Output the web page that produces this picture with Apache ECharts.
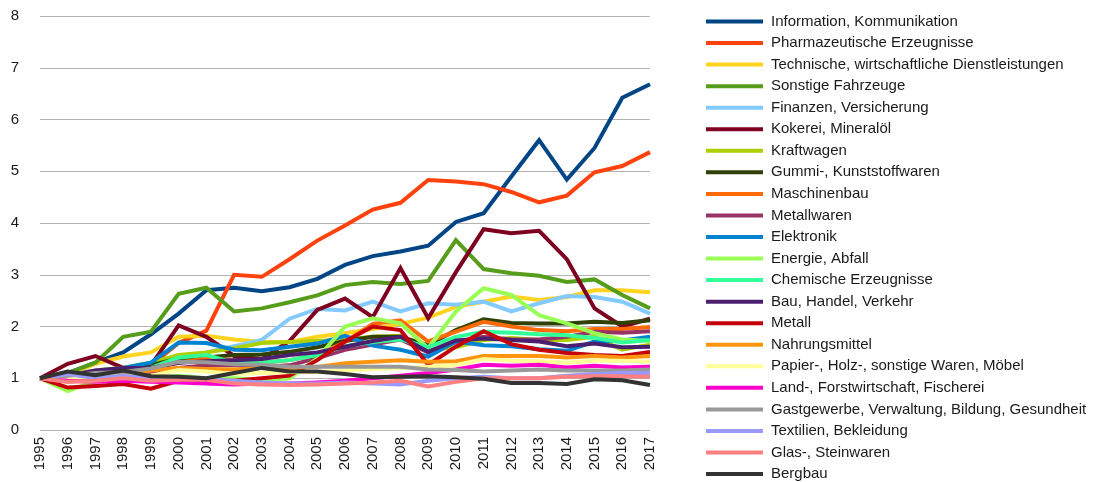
<!DOCTYPE html>
<html>
<head>
<meta charset="utf-8">
<script src="https://cdn.jsdelivr.net/npm/echarts@6/dist/echarts.min.js"></script>
<style>
  html, body { margin: 0; padding: 0; background: #fff; }
  #chart { width: 1099px; height: 482px; }
</style>
</head>
<body>
<div id="chart"></div>
<script>
var years = ['1995','1996','1997','1998','1999','2000','2001','2002','2003','2004','2005','2006','2007','2008','2009','2010','2011','2012','2013','2014','2015','2016','2017'];

var names = [
  'Information, Kommunikation', 'Pharmazeutische Erzeugnisse', 'Technische, wirtschaftliche Dienstleistungen',
  'Sonstige Fahrzeuge', 'Finanzen, Versicherung', 'Kokerei, Mineralöl', 'Kraftwagen', 'Gummi-, Kunststoffwaren',
  'Maschinenbau', 'Metallwaren', 'Elektronik', 'Energie, Abfall', 'Chemische Erzeugnisse', 'Bau, Handel, Verkehr',
  'Metall', 'Nahrungsmittel', 'Papier-, Holz-, sonstige Waren, Möbel', 'Land-, Forstwirtschaft, Fischerei',
  'Gastgewerbe, Verwaltung, Bildung, Gesundheit', 'Textilien, Bekleidung', 'Glas-, Steinwaren', 'Bergbau'
];

var colors = [
  '#004586', '#ff420e', '#ffd320', '#579d1c', '#83caff', '#7e0021', '#aecf00', '#314004',
  '#ff6a06', '#993366', '#0084d1', '#99ff55', '#33ff99', '#4b1f6f',
  '#c5000b', '#ff950e', '#ffff99', '#ff00cc', '#999999', '#9999ff', '#ff8080', '#333333'
];

var info     = [1.0,1.1,1.3,1.5,1.85,2.25,2.7,2.75,2.68,2.76,2.92,3.19,3.36,3.45,3.56,4.02,4.19,4.9,5.6,4.84,5.45,6.42,6.68];
var pharma   = [1.0,0.97,1.05,1.12,1.25,1.68,1.92,3.0,2.96,3.3,3.66,3.95,4.26,4.39,4.83,4.8,4.75,4.6,4.4,4.53,4.98,5.1,5.37];
var technik  = [1.0,1.05,1.28,1.42,1.5,1.8,1.82,1.75,1.7,1.7,1.8,1.87,1.95,2.05,2.17,2.38,2.48,2.58,2.51,2.57,2.7,2.7,2.66];
var sonstige = [1.0,1.1,1.3,1.8,1.9,2.63,2.75,2.29,2.35,2.47,2.6,2.8,2.86,2.82,2.88,3.67,3.11,3.03,2.98,2.86,2.91,2.61,2.35];
var finanzen = [1.0,1.05,1.15,1.2,1.3,1.4,1.5,1.62,1.74,2.15,2.34,2.31,2.48,2.29,2.45,2.42,2.48,2.29,2.45,2.59,2.57,2.48,2.25];
var kokerei  = [1.0,1.28,1.43,1.2,1.25,2.02,1.8,1.43,1.37,1.72,2.32,2.54,2.18,3.13,2.16,3.05,3.88,3.8,3.85,3.3,2.35,2.0,2.15];
var kraft    = [1.0,1.05,1.15,1.2,1.3,1.45,1.5,1.58,1.68,1.7,1.72,1.75,1.8,1.82,1.55,1.6,1.74,1.78,1.74,1.74,1.8,1.55,1.65];
var gummi    = [1.0,1.05,1.1,1.18,1.25,1.38,1.4,1.45,1.46,1.51,1.6,1.72,1.8,1.8,1.64,1.93,2.14,2.07,2.06,2.06,2.09,2.07,2.12];
var masch    = [1.0,1.05,1.08,1.12,1.18,1.3,1.38,1.35,1.3,1.35,1.45,1.7,2.05,2.12,1.71,1.9,2.09,2.0,1.93,1.91,1.95,1.95,1.99];
var metallw  = [1.0,1.02,1.05,1.1,1.12,1.2,1.25,1.25,1.22,1.25,1.39,1.55,1.65,1.75,1.5,1.7,1.8,1.75,1.75,1.8,1.9,1.88,1.91];
var elektr   = [1.0,1.05,1.1,1.2,1.3,1.69,1.68,1.55,1.54,1.61,1.67,1.82,1.63,1.55,1.42,1.71,1.64,1.62,1.56,1.53,1.71,1.73,1.8];
var energie  = [1.0,0.75,0.95,1.0,1.0,1.05,1.0,1.0,0.97,1.0,1.38,2.0,2.16,2.06,1.58,2.29,2.74,2.61,2.22,2.06,1.87,1.75,1.72];
var chemie   = [1.0,1.05,1.1,1.15,1.2,1.4,1.45,1.3,1.3,1.35,1.45,1.62,1.7,1.75,1.6,1.8,1.9,1.88,1.85,1.83,1.78,1.69,1.74];
var bau      = [1.0,1.05,1.15,1.2,1.2,1.3,1.33,1.35,1.37,1.45,1.5,1.61,1.72,1.8,1.51,1.73,1.77,1.74,1.71,1.62,1.67,1.6,1.61];
var metall   = [1.0,0.82,0.85,0.89,0.8,0.95,0.95,0.95,1.0,1.05,1.35,1.71,2.0,1.93,1.26,1.61,1.91,1.66,1.55,1.49,1.45,1.43,1.51];
var nahrung  = [1.0,1.05,1.08,1.1,1.15,1.2,1.18,1.17,1.2,1.2,1.22,1.29,1.32,1.35,1.32,1.33,1.43,1.43,1.43,1.4,1.43,1.4,1.43];
var papier   = [1.0,1.0,1.02,1.05,1.05,1.16,1.13,1.08,1.1,1.12,1.12,1.15,1.18,1.2,1.22,1.25,1.37,1.34,1.33,1.3,1.34,1.34,1.32];
var land     = [1.0,0.95,0.93,0.95,0.93,0.92,0.9,0.88,0.9,0.9,0.92,0.95,1.0,1.05,1.1,1.17,1.26,1.24,1.26,1.21,1.24,1.21,1.22];
var gast     = [1.0,1.05,1.1,1.12,1.19,1.32,1.31,1.27,1.26,1.22,1.22,1.22,1.22,1.22,1.17,1.16,1.13,1.15,1.17,1.15,1.15,1.15,1.17];
var textil   = [1.0,1.08,1.0,1.05,1.0,1.0,0.98,0.95,0.92,0.9,0.9,0.92,0.9,0.88,0.95,1.0,1.03,1.0,1.0,1.05,1.08,1.1,1.1];
var glas     = [1.0,0.93,0.95,1.0,0.95,0.97,0.97,0.9,0.88,0.87,0.88,0.9,0.92,0.95,0.84,0.93,1.0,1.0,1.0,1.03,1.04,1.04,1.03];
var bergbau  = [1.0,1.13,1.06,1.15,1.04,1.03,1.0,1.1,1.2,1.13,1.13,1.08,1.02,1.03,1.04,1.02,0.99,0.91,0.91,0.89,0.98,0.96,0.87];

var allData = [info, pharma, technik, sonstige, finanzen, kokerei, kraft, gummi, masch, metallw, elektr,
               energie, chemie, bau, metall, nahrung, papier, land, gast, textil, glas, bergbau];

var font = 'Liberation Sans, Arial, sans-serif';

var series = [];
for (var i = 0; i < names.length; i++) {
    series.push({
        name: names[i],
        type: 'line',
        data: allData[i],
        symbol: 'none',
        lineStyle: { width: 4, color: colors[i], join: 'miter' },
        itemStyle: { color: colors[i] }
    });
}

var myChart = echarts.init(document.getElementById('chart'));
var option = {
    animation: false,
    color: colors,
    grid: { left: 40, right: 449, top: 16, bottom: 52 },
    legend: {
        orient: 'vertical',
        left: 706,
        top: 14,
        height: 468,
        padding: 0,
        icon: 'rect',
        itemWidth: 57,
        itemHeight: 4,
        itemGap: 6.55,
        data: names,
        textStyle: { fontFamily: font, fontSize: 15, color: '#1a1a1a', lineHeight: 15, padding: [0, 0, 0, 3] }
    },
    xAxis: {
        type: 'category',
        data: years,
        boundaryGap: false,
        axisLine: { show: false },
        axisTick: { show: false },
        axisLabel: { rotate: 90, margin: 7, fontFamily: font, fontSize: 15, color: '#1a1a1a' }
    },
    yAxis: {
        type: 'value',
        min: 0,
        max: 8,
        interval: 1,
        axisLine: { show: false },
        axisTick: { show: false },
        axisLabel: { margin: 21, fontFamily: font, fontSize: 15, color: '#1a1a1a' },
        splitLine: { lineStyle: { color: '#b3b3b3', width: 1 } }
    },
    series: series
};
myChart.setOption(option);
</script>
</body>
</html>
